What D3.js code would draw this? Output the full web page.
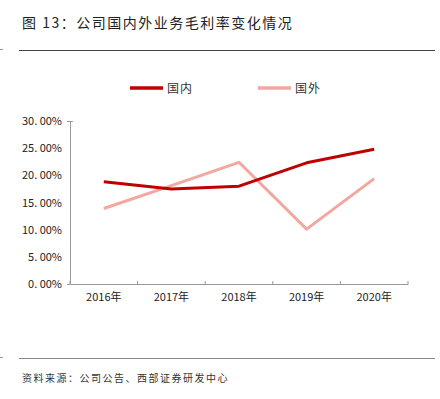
<!DOCTYPE html>
<html>
<head>
<meta charset="utf-8">
<script src="https://cdn.jsdelivr.net/npm/d3@7"></script>
<style>
  body { margin: 0; background: #fff; }
  text { font-family: "Noto Sans CJK SC", "Noto Sans", sans-serif; }
</style>
</head>
<body>
<div id="chart-area"></div>
<script>
// data
let years = ["2016年", "2017年", "2018年", "2019年", "2020年"];
let domestic = [18.8, 17.5, 18.0, 22.3, 24.8];
let overseas = [13.9, 18.1, 22.4, 10.1, 19.4];
let yTicks = [0, 5, 10, 15, 20, 25, 30];
let seriesNames = ["国内", "国外"];
let seriesColors = ["#c00000", "#f4a6a0"];

let W = 440, H = 399;
let margin = {top: 121, right: 32, bottom: 115, left: 70};
let width = W - margin.left - margin.right,
    height = H - margin.top - margin.bottom;

let svg = d3.select("#chart-area").append("svg")
    .attr("width", W)
    .attr("height", H);

// title + rules
svg.append("text")
    .attr("x", 22).attr("y", 28)
    .attr("font-size", 14).attr("fill", "#222")
    .attr("letter-spacing", 1.5)
    .text("图 13：公司国内外业务毛利率变化情况");

svg.append("line").attr("x1", 19).attr("x2", 435).attr("y1", 50.5).attr("y2", 50.5)
    .attr("stroke", "#444").attr("stroke-width", 1);
svg.append("line").attr("x1", 0).attr("x2", 3).attr("y1", 49.5).attr("y2", 49.5)
    .attr("stroke", "#999");
svg.append("line").attr("x1", 19).attr("x2", 435).attr("y1", 358.5).attr("y2", 358.5)
    .attr("stroke", "#888").attr("stroke-width", 1.2);
svg.append("line").attr("x1", 0).attr("x2", 3).attr("y1", 357.5).attr("y2", 357.5)
    .attr("stroke", "#999");

svg.append("text")
    .attr("x", 22).attr("y", 382)
    .attr("font-size", 10).attr("fill", "#333")
    .attr("letter-spacing", 1.5)
    .text("资料来源：公司公告、西部证券研发中心");

// legend
let legend = svg.selectAll(".legend").data(seriesNames).enter()
    .append("g").attr("class", "legend")
    .attr("transform", (d, i) => "translate(" + (130 + i * 128) + ",88)");
legend.append("line").attr("x1", 0).attr("x2", 33).attr("y1", 0).attr("y2", 0)
    .attr("stroke", (d, i) => seriesColors[i]).attr("stroke-width", 3.5);
legend.append("text").attr("x", 37).attr("y", 4.5)
    .attr("font-size", 12).attr("fill", "#333").attr("letter-spacing", 1)
    .text(d => d);

let g = svg.append("g")
    .attr("transform", "translate(" + margin.left + "," + margin.top + ")");

// scales
let x = d3.scaleBand().domain(years).range([0, width]);
let y = d3.scaleLinear().domain([0, 30]).range([height, 0]);

// axes
let yAxis = d3.axisLeft(y).tickValues(yTicks)
    .tickFormat(d => d3.format(".2f")(d).replace(".", ". ") + "%")
    .tickSize(3);
let yAxisGroup = g.append("g").attr("class", "y-axis").call(yAxis);
yAxisGroup.select(".domain").attr("stroke", "#999");
yAxisGroup.selectAll(".tick line").attr("stroke", "#999").attr("x2", 3).attr("x1", 0);
yAxisGroup.selectAll(".tick line").filter(d => d !== 30).remove();
yAxisGroup.selectAll("text").attr("font-size", 11).attr("fill", "#222").attr("x", -8);

let xAxis = d3.axisBottom(x).tickSize(0);
let xAxisGroup = g.append("g").attr("class", "x-axis")
    .attr("transform", "translate(0," + height + ")").call(xAxis);
xAxisGroup.select(".domain").attr("stroke", "#999");
xAxisGroup.selectAll("text").attr("font-size", 11).attr("fill", "#222").attr("dy", "1.25em");
// tick marks on band boundaries
let bounds = years.map(d => x(d)).concat([width]);
g.selectAll(".xb").data(bounds).enter().append("line")
    .attr("x1", d => d).attr("x2", d => d)
    .attr("y1", height).attr("y2", height - 3)
    .attr("stroke", "#999");

// lines
let line = d3.line()
    .x((d, i) => x(years[i]) + x.bandwidth() / 2)
    .y(d => y(d));

[domestic, overseas].slice().reverse().forEach((s, k) => {
  let idx = 1 - k;
  g.append("path").datum(s)
    .attr("d", line)
    .attr("fill", "none")
    .attr("stroke", seriesColors[idx])
    .attr("stroke-width", 3)
    .attr("stroke-linejoin", "round");
});
</script>
</body>
</html>
